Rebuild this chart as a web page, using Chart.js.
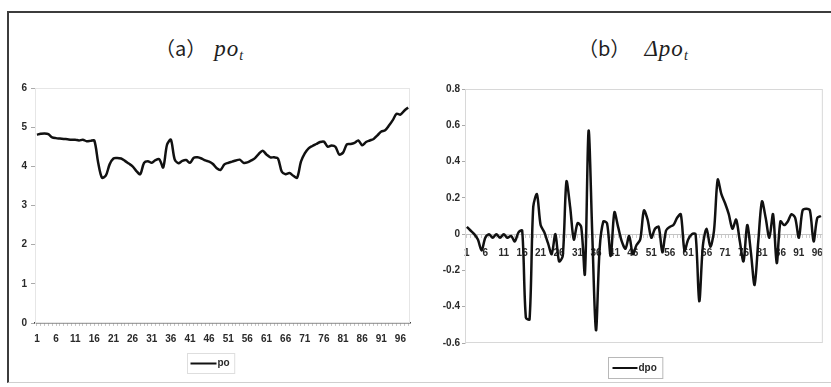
<!DOCTYPE html>
<html>
<head>
<meta charset="utf-8">
<script src="https://cdn.jsdelivr.net/npm/chart.js@4.4.0/dist/chart.umd.min.js"></script>
<style>
  html, body { margin: 0; padding: 0; background: #fff; }
  body { width: 831px; height: 387px; position: relative; overflow: hidden; }
  #frame { position: absolute; left: 7px; top: 11px; width: 840px; height: 369px;
           border-top: 2px solid #3c3c3c; border-left: 2px solid #3c3c3c; border-bottom: 1px solid #cfcfcf; }
  canvas { position: absolute; top: 0; }
  #chartA { left: 0; }
  #chartB { left: 420px; }
  .title { position: absolute; white-space: nowrap; color: #1e1e1e; line-height: 26px; }
  .title .cjk { font-family: "Noto Sans CJK SC"; font-size: 20px; }
  .title .var { font-family: "Liberation Serif"; font-style: italic; font-size: 23px; letter-spacing: 1px; margin-left: 8px; }
  .title sub { font-family: "Liberation Serif"; font-style: italic; font-size: 14px; vertical-align: -4px; }
</style>
</head>
<body>
<div id="frame"></div>
<div class="title" style="left:155px; top:35px;"><span class="cjk">（a）</span><span class="var">po</span><sub>t</sub></div>
<div class="title" style="left:578px; top:35px;"><span class="cjk">（b）</span><span class="var" style="margin-left:14px;">Δpo</span><sub>t</sub></div>
<canvas id="chartA" width="420" height="387"></canvas>
<canvas id="chartB" width="411" height="387"></canvas>
<script>
// series
const poValues = [
  4.81, 4.83, 4.84, 4.82, 4.74, 4.72, 4.71, 4.70, 4.69, 4.68,
  4.68, 4.66, 4.68, 4.64, 4.65, 4.66, 4.10, 3.71, 3.76, 4.05,
  4.20, 4.21, 4.20, 4.14, 4.07, 4.00, 3.88, 3.80, 4.09, 4.13,
  4.09, 4.16, 4.18, 3.97, 4.55, 4.68, 4.18, 4.08, 4.14, 4.16,
  4.09, 4.22, 4.23, 4.20, 4.15, 4.12, 4.06, 3.95, 3.91, 4.05,
  4.09, 4.12, 4.15, 4.17, 4.09, 4.10, 4.15, 4.21, 4.32, 4.40,
  4.30, 4.23, 4.23, 4.20, 3.86, 3.80, 3.83, 3.76, 3.71, 4.12,
  4.33, 4.46, 4.52, 4.57, 4.62, 4.63, 4.50, 4.53, 4.50, 4.30,
  4.35, 4.56, 4.57, 4.60, 4.66, 4.54, 4.62, 4.66, 4.70, 4.79,
  4.89, 4.92, 5.04, 5.18, 5.34, 5.32, 5.42, 5.50
];
const dpoValues = [
  0.04, 0.02, 0.00, -0.03, -0.09, -0.02, 0.00, -0.02, 0.00, -0.02,
  0.00, -0.02, -0.01, -0.04, 0.01, 0.02, -0.46, -0.47, 0.15, 0.22,
  0.05, 0.01, -0.05, -0.11, 0.00, -0.15, -0.12, 0.29, 0.15, -0.03,
  0.06, 0.04, -0.22, 0.57, 0.00, -0.53, -0.08, 0.07, 0.06, -0.12,
  0.12, 0.04, -0.04, -0.08, -0.01, -0.11, -0.06, -0.03, 0.13, 0.08,
  -0.02, 0.03, 0.04, -0.10, 0.02, 0.04, 0.05, 0.09, 0.11, -0.09,
  -0.03, 0.00, 0.00, -0.37, -0.06, 0.03, -0.07, 0.02, 0.30, 0.22,
  0.17, 0.11, 0.03, 0.08, -0.04, -0.15, 0.05, -0.10, -0.28, -0.04,
  0.18, 0.09, -0.02, 0.11, -0.16, 0.07, 0.05, 0.07, 0.11, 0.09,
  -0.02, 0.13, 0.14, 0.13, -0.04, 0.09, 0.10
];
const poLabels = poValues.map((_, i) => String(i + 1));
const dpoLabels = dpoValues.map((_, i) => String(i + 1));
const labelEvery = 5;

const tickFont = { family: 'Liberation Sans', size: 10, weight: 'bold' };
const inkColor = '#2a2a2a';

// light frame around the plot area
const plotFrame = {
  id: 'plotFrame',
  beforeDatasetsDraw(chart, args, opts) {
    const { ctx, chartArea: a } = chart;
    ctx.save();
    ctx.strokeStyle = opts.color;
    ctx.lineWidth = 1;
    ctx.strokeRect(a.left + 0.5, a.top + 0.5, a.width - 1, a.height - 1);
    ctx.restore();
  }
};

// excel style legend: line sample + name in a thin box
const lineLegend = {
  id: 'lineLegend',
  afterDraw(chart, args, opts) {
    const ds = chart.data.datasets[0];
    const ctx = chart.ctx;
    ctx.save();
    ctx.font = 'bold 10px "Liberation Sans"';
    const tw = ctx.measureText(ds.label).width;
    const w = opts.pad + opts.sample + 1 + tw + opts.pad + 2;
    const x0 = Math.round(opts.cx - w / 2) + 0.5;
    const y0 = opts.top + 0.5;
    ctx.strokeStyle = opts.boxColor;
    ctx.lineWidth = 1;
    ctx.strokeRect(x0, y0, w, opts.height);
    const ym = y0 + opts.height / 2;
    ctx.strokeStyle = ds.borderColor;
    ctx.lineWidth = 2;
    ctx.beginPath();
    ctx.moveTo(x0 + opts.pad, ym);
    ctx.lineTo(x0 + opts.pad + opts.sample, ym);
    ctx.stroke();
    ctx.fillStyle = inkColor;
    ctx.textBaseline = 'middle';
    ctx.fillText(ds.label, x0 + opts.pad + opts.sample + 1, ym);
    ctx.restore();
  }
};

function xTicks(value, index) {
  return index % labelEvery === 0 ? this.getLabelForValue(value) : '';
}

new Chart(document.getElementById('chartA'), {
  type: 'line',
  data: {
    labels: poLabels,
    datasets: [{
      label: 'po',
      data: poValues,
      borderColor: '#111',
      borderWidth: 2.5,
      pointRadius: 0,
      tension: 0.3,
      fill: false,
    }],
  },
  options: {
    responsive: false,
    animation: false,
    devicePixelRatio: 1,
    layout: { padding: { left: 0, top: 88, right: 10, bottom: 42 } },
    scales: {
      x: {
        offset: true,
        grid: { drawOnChartArea: false, tickLength: 3, color: '#c8c8c8' },
        border: { color: '#444', width: 1.5 },
        ticks: { autoSkip: false, maxRotation: 0, padding: 7, color: inkColor, font: tickFont, callback: xTicks },
        afterFit(scale) { scale.height = 22; },
      },
      y: {
        min: 0,
        max: 6,
        grid: { drawOnChartArea: false, tickLength: 4, color: '#aaa' },
        border: { color: '#e2e2e2' },
        ticks: { stepSize: 1, padding: 4, color: inkColor, font: tickFont },
        afterFit(scale) { scale.width = 35; },
      },
    },
    plugins: {
      legend: { display: false },
      tooltip: { enabled: false },
      plotFrame: { color: '#e6e6e6' },
      lineLegend: { cx: 211, top: 353, height: 20, sample: 26, pad: 3, boxColor: '#dedede' },
    },
  },
  plugins: [plotFrame, lineLegend],
});

new Chart(document.getElementById('chartB'), {
  type: 'line',
  data: {
    labels: dpoLabels,
    datasets: [{
      label: 'dpo',
      data: dpoValues,
      borderColor: '#111',
      borderWidth: 2.5,
      pointRadius: 0,
      tension: 0.3,
      fill: false,
    }],
  },
  options: {
    responsive: false,
    animation: false,
    devicePixelRatio: 1,
    layout: { padding: { left: 0, top: 89, right: 2, bottom: 44 } },
    scales: {
      x: {
        position: { y: 0 },
        offset: true,
        grid: { drawOnChartArea: false, tickLength: 3, color: '#ccc' },
        border: { color: '#c4c4c4', dash: [2, 2] },
        ticks: { autoSkip: false, maxRotation: 0, padding: 10, color: inkColor, font: tickFont, callback: xTicks },
      },
      y: {
        min: -0.6,
        max: 0.8,
        grid: { drawOnChartArea: false, tickLength: 3, color: '#aaa' },
        border: { color: '#d8d8d8' },
        ticks: { stepSize: 0.2, padding: 2, color: inkColor, font: tickFont, callback: v => String(+v.toFixed(1)) },
        afterFit(scale) { scale.width = 45; },
      },
    },
    plugins: {
      legend: { display: false },
      tooltip: { enabled: false },
      plotFrame: { color: '#d8d8d8' },
      lineLegend: { cx: 215, top: 357, height: 21, sample: 25, pad: 4, boxColor: '#b8b8b8' },
    },
  },
  plugins: [plotFrame, lineLegend],
});
</script>
</body>
</html>
